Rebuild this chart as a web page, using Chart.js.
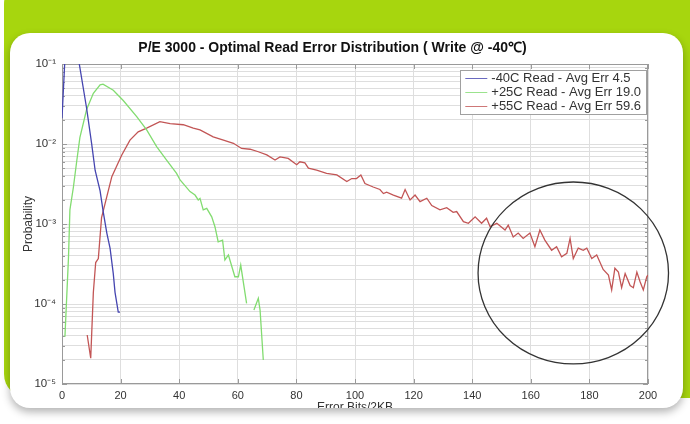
<!DOCTYPE html>
<html><head><meta charset="utf-8">
<script src="https://cdn.jsdelivr.net/npm/chart.js@4.4.1/dist/chart.umd.min.js"></script>
<style>
html,body{margin:0;padding:0;background:#fff;width:690px;height:424px;overflow:hidden;}
#green{position:absolute;left:4px;top:-20px;width:720px;height:418px;background:#a7d60e;border-radius:24px;}
#card{position:absolute;left:10px;top:33px;width:673px;height:375px;background:#fff;border-radius:20px;overflow:hidden;box-shadow:0 4px 8px rgba(0,0,0,0.3);}
#wrap{position:absolute;left:-10px;top:-33px;width:690px;height:424px;}
</style></head><body>
<div id="green"></div>
<div id="card"><div id="wrap"><canvas id="c" width="690" height="424"></canvas></div></div>
<script>
const chartTitle = 'P/E 3000 - Optimal Read Error Distribution ( Write @ -40\u2103)';
const xTitle = 'Error Bits/2KB';
const yTitle = 'Probability';
const seriesLabels = ['-40C Read - Avg Err 4.5', '+25C Read - Avg Err 19.0', '+55C Read - Avg Err 59.6'];
const xTicks = [0, 20, 40, 60, 80, 100, 120, 140, 160, 180, 200];
const yDecades = [1e-5, 1e-4, 1e-3, 1e-2, 1e-1];
const yTickLabels = ['10\u207B\u2075', '10\u207B\u2074', '10\u207B\u00B3', '10\u207B\u00B2', '10\u207B\u00B9'];
const yMinor = [2, 3, 4, 5, 6, 7, 8, 9];

const blueX = [0, 1.1, 5.3, 5.9, 8.4, 10.1, 11.3, 13.0, 14.1, 15.3, 16.4, 17.5, 18.1, 19.2, 19.8];
const blueY = [0.021, 0.14, 0.14, 0.1, 0.028, 0.0102, 0.0047, 0.0026, 0.0014, 0.00077, 0.0005, 0.00024, 0.00014, 0.000079, 0.000079];

const greenX = [1.0, 2.2, 2.7, 3.9, 5.0, 6.1, 8.4, 10.7, 13.0, 14.0, 17.5, 20.9, 25.5, 28.9, 32.3, 35.7, 39.1, 40.3, 43.7, 45.4, 46.5, 47.1, 48.2, 49.4, 51.1, 52.2, 53.3, 54.8, 55.6, 56.8, 59.0, 60.2, 61.0, 63.0, 64.2, 65.5, 67.0, 67.6, 68.7];
const greenY = [3.9e-5, 3.7e-4, 1.5e-3, 2.9e-3, 6.0e-3, 0.012, 0.027, 0.043, 0.055, 0.056, 0.047, 0.035, 0.022, 0.015, 0.0093, 0.0063, 0.0043, 0.00355, 0.00254, 0.0023, 0.0020, 0.00209, 0.0015, 0.00157, 0.00123, 0.000925, 0.0006, 0.00063, 0.000355, 0.00041, 0.000219, 0.000219, 0.000307, 0.000102, null, 8.4e-5, 1.18e-4, 8.4e-5, 2.0e-5];

const redX = [8.6, 9.8, 10.7, 11.5, 12.4, 13.5, 14.7, 17.0, 20.4, 23.2, 26.0, 28.9, 33.4, 36.9, 41.4, 44.8, 47.1, 51.6, 55.1, 58.5, 61.3, 64.2, 67.0, 69.9, 72.7, 74.4, 77.2, 80.1, 81.2, 82.9, 84.1, 86.9, 90.3, 93.8, 97.2, 98.9, 100.5, 102.0, 103.4, 106.2, 108.5, 109.7, 110.8, 113.1, 115.9, 117.1, 118.8, 120.5, 122.2, 124.5, 126.2, 129.0, 131.3, 133.5, 134.7, 137.0, 138.7, 141.0, 143.2, 144.9, 146.1, 148.4, 151.2, 152.3, 154.0, 155.7, 157.4, 159.7, 161.4, 163.1, 164.8, 167.1, 168.8, 170.5, 172.3, 173.4, 174.5, 176.2, 177.9, 179.1, 180.8, 182.5, 184.7, 186.5, 187.6, 188.7, 189.9, 191.0, 192.2, 193.9, 195.0, 196.2, 197.3, 198.4, 199.6, 200];
const redY = [4.1e-5, 2.1e-5, 1.4e-4, 3.3e-4, 3.7e-4, 1.2e-3, 1.8e-3, 3.9e-3, 7.3e-3, 0.0112, 0.0142, 0.0158, 0.019, 0.018, 0.0174, 0.0158, 0.0150, 0.0123, 0.0112, 0.0102, 0.0088, 0.0086, 0.0080, 0.0073, 0.0063, 0.0069, 0.0066, 0.0055, 0.0060, 0.0058, 0.0050, 0.0047, 0.0043, 0.0041, 0.0034, 0.0037, 0.0037, 0.0041, 0.0032, 0.0029, 0.0027, 0.0024, 0.0025, 0.0023, 0.0021, 0.0027, 0.0020, 0.0023, 0.0019, 0.0021, 0.0017, 0.0015, 0.0016, 0.0014, 0.00143, 0.00107, 0.00102, 0.00123, 0.00102, 0.00118, 0.00093, 0.00102, 0.00084, 0.00097, 0.00069, 0.00077, 0.00066, 0.00077, 0.00052, 0.00084, 0.00063, 0.00047, 0.00052, 0.00039, 0.00043, 0.00066, 0.00037, 0.00050, 0.00047, 0.00050, 0.00037, 0.00041, 0.00027, 0.00023, 0.00015, 0.00028, 0.00025, 0.00016, 0.00024, 0.00017, 0.00016, 0.00025, 0.00019, 0.00015, 0.00022, 0.00023];

const circleBox = { xMin: 142, xMax: 207, yTop: 3.35e-3, yBottom: 1.78e-5 };

const colors = ['#4545b0', '#82dc70', '#c25555'];
const FONT = "'Liberation Sans', Arial, sans-serif";

function pts(xs, ys) { return xs.map((x, i) => ({ x: x, y: ys[i] })); }

const framePlugin = {
  id: 'frame',
  beforeDatasetsDraw(chart) {
    const { ctx, chartArea: a, scales } = chart;
    ctx.save();
    ctx.strokeStyle = '#9a9a9a';
    ctx.lineWidth = 1;
    ctx.strokeRect(a.left + 0.5, a.top + 0.5, a.right - a.left - 1, a.bottom - a.top - 1);
    ctx.beginPath();
    scales.y.ticks.forEach(t => {
      const py = Math.round(scales.y.getPixelForValue(t.value)) + 0.5;
      const len = yDecades.some(d => Math.abs(t.value / d - 1) < 1e-6) ? 5 : 3;
      ctx.moveTo(a.left, py); ctx.lineTo(a.left + len, py);
      ctx.moveTo(a.right, py); ctx.lineTo(a.right - len, py);
    });
    xTicks.forEach(v => {
      const px = Math.round(scales.x.getPixelForValue(v)) + 0.5;
      ctx.moveTo(px, a.bottom); ctx.lineTo(px, a.bottom - 5);
      ctx.moveTo(px, a.top); ctx.lineTo(px, a.top + 5);
    });
    ctx.stroke();
    ctx.restore();
  }
};

const legendPlugin = {
  id: 'innerLegend',
  afterDraw(chart) {
    const { ctx, chartArea: a } = chart;
    ctx.save();
    ctx.font = '13px ' + FONT;
    const tw = Math.max(...chart.data.datasets.map(d => ctx.measureText(d.label).width));
    const w = 5 + 22 + 4 + tw + 5;
    const rowH = 14;
    const h = 2 + rowH * chart.data.datasets.length;
    const right = a.right - 2, top = a.top + 6;
    const left = right - w;
    ctx.fillStyle = '#fff';
    ctx.fillRect(left, top, w, h);
    ctx.strokeStyle = '#a0a0a0';
    ctx.lineWidth = 1;
    ctx.strokeRect(Math.round(left) + 0.5, top + 0.5, Math.round(w), h);
    ctx.textBaseline = 'middle';
    chart.data.datasets.forEach((d, i) => {
      const cy = top + 1 + rowH * i + rowH / 2;
      ctx.strokeStyle = d.borderColor;
      ctx.globalAlpha = 0.8;
      ctx.beginPath(); ctx.moveTo(left + 5, cy + 0.5); ctx.lineTo(left + 27, cy + 0.5); ctx.stroke();
      ctx.globalAlpha = 1;
      ctx.fillStyle = '#333';
      ctx.fillText(d.label, left + 31, cy + 0.5);
    });
    ctx.restore();
  }
};

const circlePlugin = {
  id: 'circle',
  afterDraw(chart) {
    const { ctx, scales } = chart;
    const l = scales.x.getPixelForValue(circleBox.xMin), r = scales.x.getPixelForValue(circleBox.xMax);
    const t = scales.y.getPixelForValue(circleBox.yTop), b = scales.y.getPixelForValue(circleBox.yBottom);
    ctx.save();
    ctx.strokeStyle = '#333';
    ctx.lineWidth = 1.3;
    ctx.beginPath();
    ctx.ellipse((l + r) / 2, (t + b) / 2, (r - l) / 2, (b - t) / 2, 0, 0, Math.PI * 2);
    ctx.stroke();
    ctx.restore();
  }
};

new Chart(document.getElementById('c'), {
  type: 'line',
  data: {
    datasets: [
      { label: seriesLabels[0], data: pts(blueX, blueY), borderColor: colors[0] },
      { label: seriesLabels[1], data: pts(greenX, greenY), borderColor: colors[1] },
      { label: seriesLabels[2], data: pts(redX, redY), borderColor: colors[2] }
    ].map(d => Object.assign(d, { borderWidth: 1.3, pointRadius: 0, tension: 0, spanGaps: false, fill: false }))
  },
  options: {
    responsive: false,
    animation: false,
    devicePixelRatio: 1,
    layout: { padding: { left: 17, right: 42, top: 30, bottom: 2 } },
    plugins: {
      legend: { display: false },
      tooltip: { enabled: false },
      title: {
        display: true, text: chartTitle, color: '#111',
        font: { family: FONT, size: 14, weight: 'bold' },
        padding: { top: 9.6, bottom: 7.6 }
      }
    },
    scales: {
      x: {
        type: 'linear', min: 0, max: 200,
        afterBuildTicks: s => { s.ticks = xTicks.map(v => ({ value: v })); },
        afterFit: s => { s.height = 38; },
        ticks: { color: '#333', font: { family: FONT, size: 11 }, padding: 5, maxRotation: 0 },
        grid: { color: '#dedede', drawTicks: false },
        border: { display: false },
        title: { display: true, text: xTitle, color: '#333', font: { family: FONT, size: 12 }, padding: { top: 0, bottom: 7 } }
      },
      y: {
        type: 'logarithmic', min: 1e-5, max: 1e-1,
        afterBuildTicks: s => {
          const t = [];
          yDecades.forEach((d, i) => {
            t.push({ value: d, major: true });
            if (i < yDecades.length - 1) yMinor.forEach(m => t.push({ value: d * m }));
          });
          s.ticks = t;
        },
        afterFit: s => { s.width = 45; },
        ticks: {
          autoSkip: false, color: '#333', font: { family: FONT, size: 11.5 }, padding: 6,
          callback: v => { const i = yDecades.findIndex(d => Math.abs(v / d - 1) < 1e-6); return i >= 0 ? yTickLabels[i] : ''; }
        },
        grid: { color: '#dedede', drawTicks: false },
        border: { display: false },
        title: { display: true, text: yTitle, color: '#333', font: { family: FONT, size: 12 }, padding: { top: 4, bottom: 4 } }
      }
    }
  },
  plugins: [framePlugin, legendPlugin, circlePlugin]
});
</script>
</body></html>
